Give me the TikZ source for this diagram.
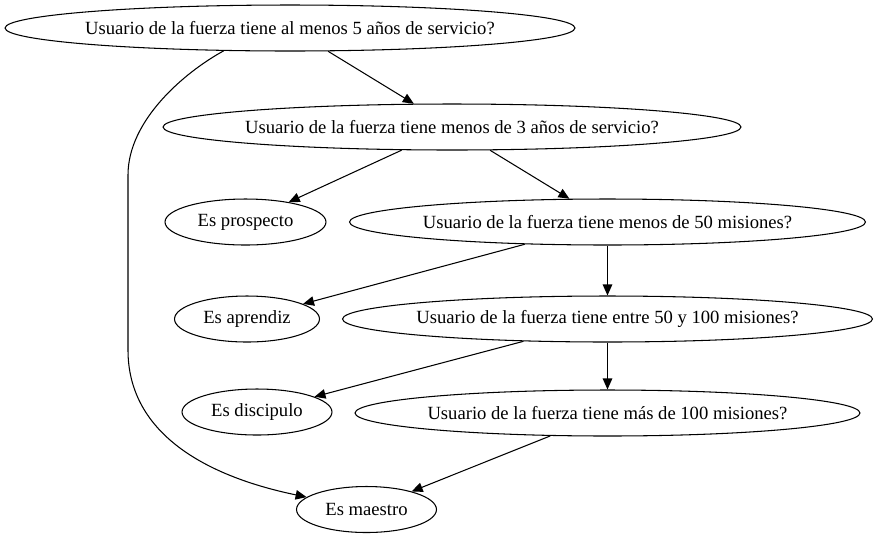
\documentclass[tikz,border=0pt]{standalone}
\usepackage{fontspec}
\setmainfont{Liberation Serif}
\usetikzlibrary{shapes,arrows.meta,positioning,calc}

\begin{document}
\begin{tikzpicture}[x=0.02cm, y=-0.02cm, line width=0.6pt,
    every node/.style={font=\fontsize{10.6}{12}\selectfont},
    pregunta/.style={draw, ellipse, inner xsep=-3pt, inner ysep=0pt, minimum height=0.92cm},
    flecha/.style={-{Triangle[length=0.22cm, width=0.19cm]}}]
                    \useasboundingbox (0,0) rectangle (876,539);

                    \node[pregunta, minimum width=11.4cm] (q5anios) at (290,28) {Usuario de la fuerza tiene al menos 5 años de servicio?};
                    \node[pregunta, minimum width=11.56cm] (q3anios) at (452,127) {Usuario de la fuerza tiene menos de 3 años de servicio?};
                    \node[pregunta, minimum width=3.22cm] (prospecto) at (245.5,222) {Es prospecto};
                    \node[pregunta, minimum width=10.32cm] (q50) at (607.5,222) {Usuario de la fuerza tiene menos de 50 misiones?};
                    \node[pregunta, minimum width=2.9cm] (aprendiz) at (247,319) {Es aprendiz};
                    \node[pregunta, minimum width=10.6cm] (q100) at (607.5,319) {Usuario de la fuerza tiene entre 50 y 100 misiones?};
                    \node[pregunta, minimum width=3.0cm] (discipulo) at (257,412) {Es discipulo};
                    \node[pregunta, minimum width=10.1cm] (qmas) at (607.5,413) {Usuario de la fuerza tiene más de 100 misiones?};
                    \node[pregunta, minimum width=2.8cm] (maestro) at (366.5,509.5) {Es maestro};

                    \draw[flecha] (q5anios) -- (q3anios);
                    \draw[flecha] (q5anios.199) .. controls (185,72) and (128,120) .. (128,175)
                        -- (128,350) .. controls (128,430) and (200,475) .. (maestro);
                    \draw[flecha] (q3anios) -- (prospecto);
                    \draw[flecha] (q3anios) -- (q50);
                    \draw[flecha] (q50) -- (aprendiz);
                    \draw[flecha] (q50) -- (q100);
                    \draw[flecha] (q100) -- (discipulo);
                    \draw[flecha] (q100) -- (qmas);
                    \draw[flecha] (qmas) -- (maestro);
                \end{tikzpicture}
\end{document}
